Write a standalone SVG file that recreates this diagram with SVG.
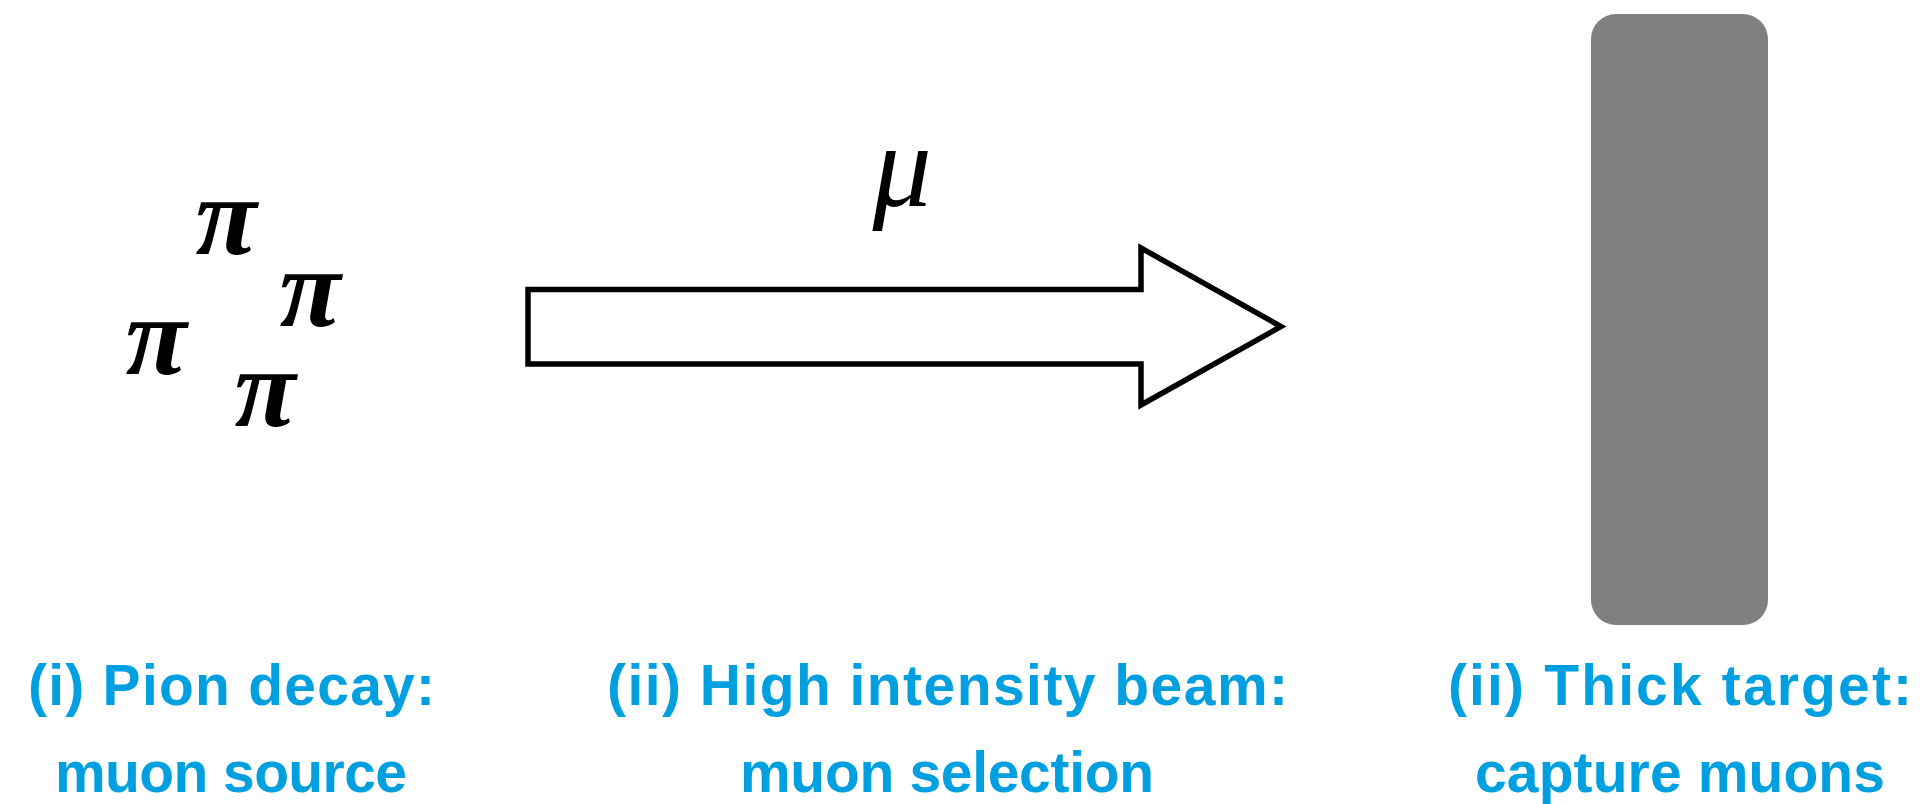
<svg xmlns="http://www.w3.org/2000/svg" width="1932" height="804" viewBox="0 0 1932 804">
  <style>
    .greek { font-family: "Liberation Serif", "DejaVu Serif", serif; font-style: italic; fill: #000000; text-anchor: middle; }
    .pi { font-weight: bold; font-size: 112px; }
    .mu { font-weight: normal; font-size: 118px; }
    .label { font-family: "Liberation Sans", Arial, sans-serif; font-weight: bold; font-size: 57px; fill: #00A0E0; text-anchor: middle; }
    .block { fill: #ffffff; stroke: #000000; stroke-width: 5.5; stroke-linejoin: miter; stroke-miterlimit: 10; }
    .target { fill: #808080; }
  </style>
  <rect width="1932" height="804" fill="#ffffff"/>

  <g id="pion-source">
    <text class="greek pi" x="226" y="254">π</text>
    <text class="greek pi" x="310" y="326">π</text>
    <text class="greek pi" x="156" y="374">π</text>
    <text class="greek pi" x="265" y="426">π</text>
  </g>

  <g id="muon-label">
    <text class="greek mu" x="902" y="206">μ</text>
  </g>

  <g id="connectors">
    <path id="beam-arrow" class="block" d="M528,289.5 L1141,289.5 L1141,248 L1281,326.5 L1141,405 L1141,364 L528,364 Z"/>
  </g>

  <g id="thick-target">
    <rect class="target" x="1591" y="14" width="177" height="611" rx="25" ry="25"/>
  </g>

  <g id="label-pion-decay">
    <text class="label" x="231.5" y="705" textLength="407">(i) Pion decay:</text>
    <text class="label" x="231" y="792" textLength="352">muon source</text>
  </g>

  <g id="label-beam">
    <text class="label" x="947.5" y="705" textLength="681">(ii) High intensity beam:</text>
    <text class="label" x="947" y="792" textLength="414">muon selection</text>
  </g>

  <g id="label-target">
    <text class="label" x="1680" y="705" textLength="464">(ii) Thick target:</text>
    <text class="label" x="1680" y="792" textLength="410">capture muons</text>
  </g>
</svg>
